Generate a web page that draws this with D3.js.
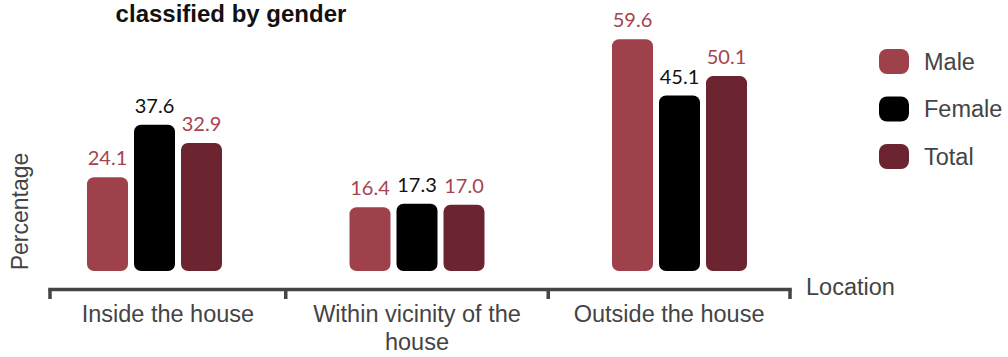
<!DOCTYPE html>
<html>
<head>
<meta charset="utf-8">
<script src="https://cdn.jsdelivr.net/npm/d3@7/dist/d3.min.js"></script>
<style>
  html, body { margin: 0; padding: 0; background: #fff; }
  svg { display: block; }
</style>
</head>
<body>
<div id="chart"></div>
<script>
// Locations on the x axis
const categories = ["Inside the house", "Within vicinity of the house", "Outside the house"];
// Series shown side by side in each location
const seriesNames = ["Male", "Female", "Total"];
// Percentages per series, in category order
const maleValues = [24.1, 16.4, 59.6];
const femaleValues = [37.6, 17.3, 45.1];
const totalValues = [32.9, 17.0, 50.1];

const seriesColors = { Male: "#9e414b", Female: "#000000", Total: "#6b2430" };
const labelColors = { Male: "#a5444f", Female: "#111111", Total: "#a5444f" };

const width = 1008, height = 357;
const textFont = "Liberation Sans, Arial, sans-serif";
const svg = d3.select("#chart").append("svg")
  .attr("width", width).attr("height", height);

const rows = categories.map((c, i) => ({
  category: c,
  Male: maleValues[i],
  Female: femaleValues[i],
  Total: totalValues[i]
}));

// Bar scales
const x0 = d3.scaleBand().domain(categories)
  .range([8.25, 825.75]).paddingInner(0.4857).paddingOuter(0.3);
const x1 = d3.scaleBand().domain(seriesNames)
  .range([0, x0.bandwidth()]).paddingInner(0.1277);
const y = d3.scaleLinear().domain([0, 60]).range([271, 37.6]);

// Title (second line)
svg.append("text")
  .attr("x", 231).attr("y", 22)
  .attr("text-anchor", "middle")
  .attr("font-family", textFont)
  .attr("font-weight", "bold")
  .attr("font-size", 24)
  .attr("fill", "#111")
  .text("classified by gender");

// Bars
const groups = svg.append("g").selectAll("g").data(rows).join("g")
  .attr("transform", d => `translate(${x0(d.category)},0)`);

groups.selectAll("rect")
  .data(d => seriesNames.map(s => ({ s, v: d[s] })))
  .join("rect")
  .attr("x", d => x1(d.s))
  .attr("y", d => y(d.v))
  .attr("width", x1.bandwidth())
  .attr("height", d => y(0) - y(d.v))
  .attr("rx", 7).attr("ry", 7)
  .attr("fill", d => seriesColors[d.s]);

// Value labels
groups.selectAll("text.val")
  .data(d => seriesNames.map(s => ({ s, v: d[s] })))
  .join("text")
  .attr("class", "val")
  .attr("x", d => x1(d.s) + x1.bandwidth() / 2)
  .attr("y", d => y(d.v) - 12)
  .attr("text-anchor", "middle")
  .attr("font-family", "Lato, sans-serif")
  .attr("font-size", 20)
  .attr("fill", d => labelColors[d.s])
  .text(d => d3.format(".1f")(d.v));

// X axis: bracket-style band boundaries between location groups
const axisLeft = 50, axisRight = 790, axisY = 289.5;
const centers = categories.map(c => x0(c) + x0.bandwidth() / 2);
const bounds = [axisLeft];
for (let i = 0; i < centers.length - 1; i++) bounds.push((centers[i] + centers[i + 1]) / 2);
bounds.push(axisRight);

const axis = svg.append("g");
axis.append("line")
  .attr("x1", axisLeft - 1.75).attr("x2", axisRight + 1.75)
  .attr("y1", axisY).attr("y2", axisY)
  .attr("stroke", "#444").attr("stroke-width", 3.5);
axis.selectAll("line.tick").data(bounds).join("line")
  .attr("class", "tick")
  .attr("x1", d => d).attr("x2", d => d)
  .attr("y1", axisY).attr("y2", 299)
  .attr("stroke", "#444").attr("stroke-width", 3.5);

// Category labels, wrapped to the band width
function wrapLines(text, maxWidth, fontSize) {
  const words = text.split(" ");
  const lines = [];
  let line = [];
  const probe = svg.append("text").attr("font-family", textFont)
    .attr("font-size", fontSize);
  words.forEach(w => {
    const trial = line.concat(w).join(" ");
    probe.text(trial);
    if (probe.node().getComputedTextLength() > maxWidth && line.length) {
      lines.push(line.join(" "));
      line = [w];
    } else {
      line.push(w);
    }
  });
  lines.push(line.join(" "));
  probe.remove();
  return lines;
}

const labelSize = 23.5;
categories.forEach((c, i) => {
  const cx = (bounds[i] + bounds[i + 1]) / 2;
  const lines = wrapLines(c, 228, labelSize);
  const t = axis.append("text")
    .attr("text-anchor", "middle")
    .attr("font-family", textFont)
    .attr("font-size", labelSize)
    .attr("fill", "#444");
  lines.forEach((ln, k) => {
    t.append("tspan").attr("x", cx).attr("y", 322 + k * 28).text(ln);
  });
});

// Axis titles
svg.append("text")
  .attr("x", 806).attr("y", 295)
  .attr("font-family", textFont)
  .attr("font-size", labelSize)
  .attr("fill", "#444")
  .text("Location");

svg.append("text")
  .attr("transform", "translate(28,211.5) rotate(-90)")
  .attr("text-anchor", "middle")
  .attr("font-family", textFont)
  .attr("font-size", 23)
  .attr("fill", "#444")
  .text("Percentage");

// Legend
const legend = svg.append("g").selectAll("g").data(seriesNames).join("g")
  .attr("transform", (d, i) => `translate(879,${49 + i * 47.5})`);
legend.append("rect")
  .attr("width", 30).attr("height", 25)
  .attr("rx", 8).attr("ry", 8)
  .attr("fill", d => seriesColors[d]);
legend.append("text")
  .attr("x", 45).attr("y", 20.5)
  .attr("font-family", textFont)
  .attr("font-size", labelSize)
  .attr("fill", "#444")
  .text(d => d);
</script>
</body>
</html>
